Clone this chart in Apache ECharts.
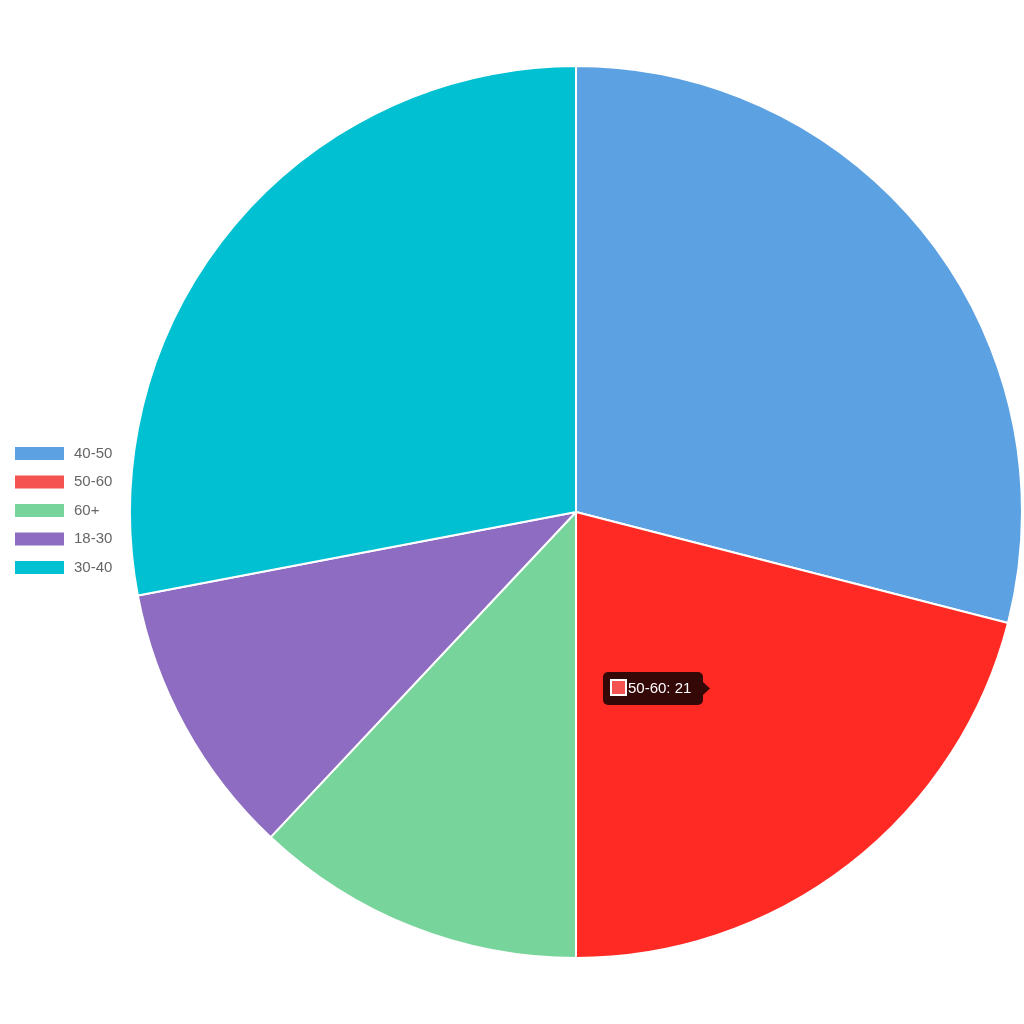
<!DOCTYPE html>
<html><head><meta charset="utf-8">
<script src="https://cdn.jsdelivr.net/npm/echarts@6/dist/echarts.min.js"></script>
<style>html,body{margin:0;padding:0;background:#fff}#c{width:1024px;height:1024px}</style>
</head><body><div id="c"></div>
<script>
const categories = ['40-50', '50-60', '60+', '18-30', '30-40'];
const values = [29, 21, 12, 10, 28];
const colors = ['#5ca1e1', '#ff2a23', '#77d59b', '#8d6cc1', '#00c0d1'];
const legendColors = ['#5ca1e1', '#f4534f', '#77d59b', '#8d6cc1', '#00c0d1'];
const tooltipIndex = 1;

const chart = echarts.init(document.getElementById('c'));
const tipText = categories[tooltipIndex] + ': ' + values[tooltipIndex];
chart.setOption({
  animation: false,
  color: colors,
  legend: {
    orient: 'vertical', left: 15, top: 446, padding: 0,
    icon: 'rect', itemWidth: 49, itemHeight: 13, itemGap: 13.5,
    itemStyle: { borderWidth: 0 },
    textStyle: { color: '#666', fontSize: 15, lineHeight: 13, padding: [0, 0, 0, 5], fontFamily: 'Arial, Liberation Sans, sans-serif' },
    data: categories.map((c, i) => ({ name: c, itemStyle: { color: legendColors[i], borderWidth: 0 } }))
  },
  series: [{
    type: 'pie', center: [576, 512], radius: 446, startAngle: 90, clockwise: true,
    label: { show: false }, labelLine: { show: false },
    itemStyle: { borderColor: '#fff', borderWidth: 2 },
    emphasis: { disabled: true },
    data: categories.map((c, i) => ({ name: c, value: values[i] }))
  }],
  graphic: [{
    type: 'group', left: 603, top: 672, z: 100,
    children: [
      { type: 'rect', z: 100, shape: { x: 0, y: 0, width: 100, height: 33, r: 5 }, style: { fill: 'rgba(0,0,0,0.8)' } },
      { type: 'polygon', z: 100, shape: { points: [[100, 10], [107, 16.5], [100, 23]] }, style: { fill: 'rgba(0,0,0,0.8)' } },
      { type: 'rect', z: 101, shape: { x: 8, y: 8, width: 15, height: 15 }, style: { fill: '#f4534f', stroke: '#fff', lineWidth: 2 } },
      { type: 'text', z: 101, x: 25, y: 16.5, style: { text: tipText, fill: '#fff', fontSize: 15, fontFamily: 'Arial, Liberation Sans, sans-serif', verticalAlign: 'middle' } }
    ]
  }]
});
</script></body></html>
